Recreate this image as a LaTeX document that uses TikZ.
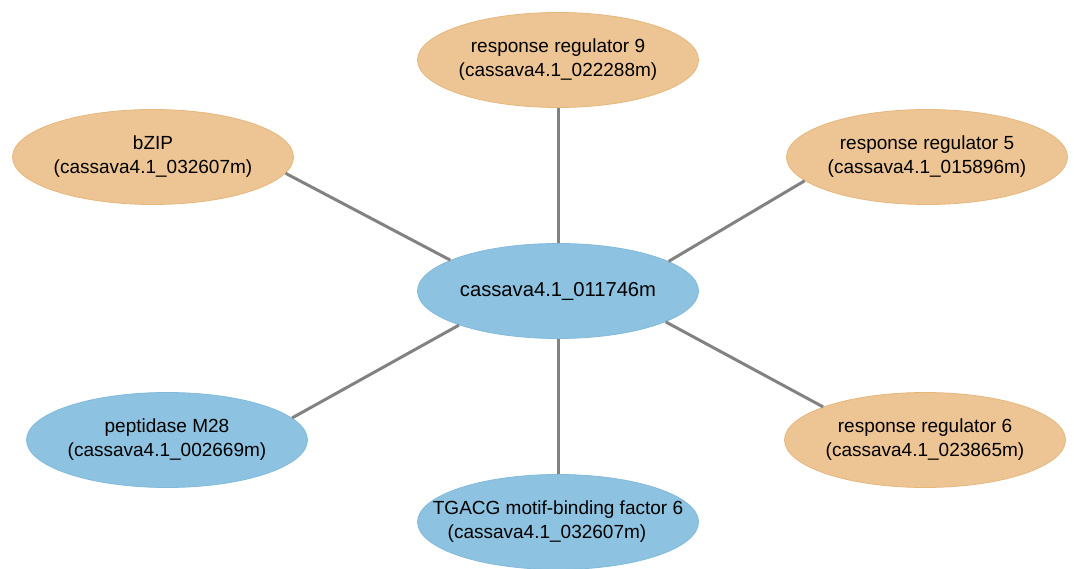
\documentclass[tikz,border=0pt]{standalone}
\usepackage{fontspec}
\setmainfont{Liberation Sans}
\usetikzlibrary{shapes.geometric}
\definecolor{genefill}{RGB}{237,197,148}
\definecolor{geneline}{RGB}{229,183,125}
\definecolor{hubfill}{RGB}{141,195,224}
\definecolor{hubline}{RGB}{130,186,218}
\definecolor{edgegray}{RGB}{130,130,130}
\tikzset{
  ell/.style={ellipse, minimum width=281pt, minimum height=95pt, inner sep=0pt, line width=0.8pt},
  tfnode/.style={ell, fill=genefill, draw=geneline},
  bluenode/.style={ell, fill=hubfill, draw=hubline},
  txt/.style={align=center, font=\fontsize{19}{24}\selectfont, inner sep=0pt},
  hubtxt/.style={txt, font=\fontsize{20.2}{24}\selectfont},
  link/.style={draw=edgegray, line width=3pt}
}
\begin{document}
\begin{tikzpicture}[x=1pt, y=-1pt]
\useasboundingbox (0,0) rectangle (1074,569);

% nodes
\node[bluenode, label={[hubtxt]center:cassava4.1\_011746m}] (hub) at (558,291) {};
\node[tfnode, label={[txt]center:response regulator 9\\(cassava4.1\_022288m)}] (rr9) at (558,60) {};
\node[tfnode, label={[txt]center:bZIP\\(cassava4.1\_032607m)}] (bzip) at (153,157) {};
\node[tfnode, label={[txt]center:response regulator 5\\(cassava4.1\_015896m)}] (rr5) at (927,157) {};
\node[bluenode, label={[txt]center:peptidase M28\\(cassava4.1\_002669m)}] (pep) at (167,440) {};
\node[tfnode, label={[txt]center:response regulator 6\\(cassava4.1\_023865m)}] (rr6) at (925,440) {};
\node[bluenode, label={[txt]center:TGACG motif-binding factor 6\\\hbox{(cassava4.1\_032607m)\kern22pt}}] (tga) at (558,522) {};

% connectors
\draw[link] (hub.90) -- (rr9.270);
\draw[link] (hub.270) -- (tga.90);
\draw[link] (hub.164) -- (bzip.353);
\draw[link] (hub.15) -- (rr5.191);
\draw[link] (hub.199) -- (pep.10);
\draw[link] (hub.344) -- (rr6.162);
\end{tikzpicture}
\end{document}
